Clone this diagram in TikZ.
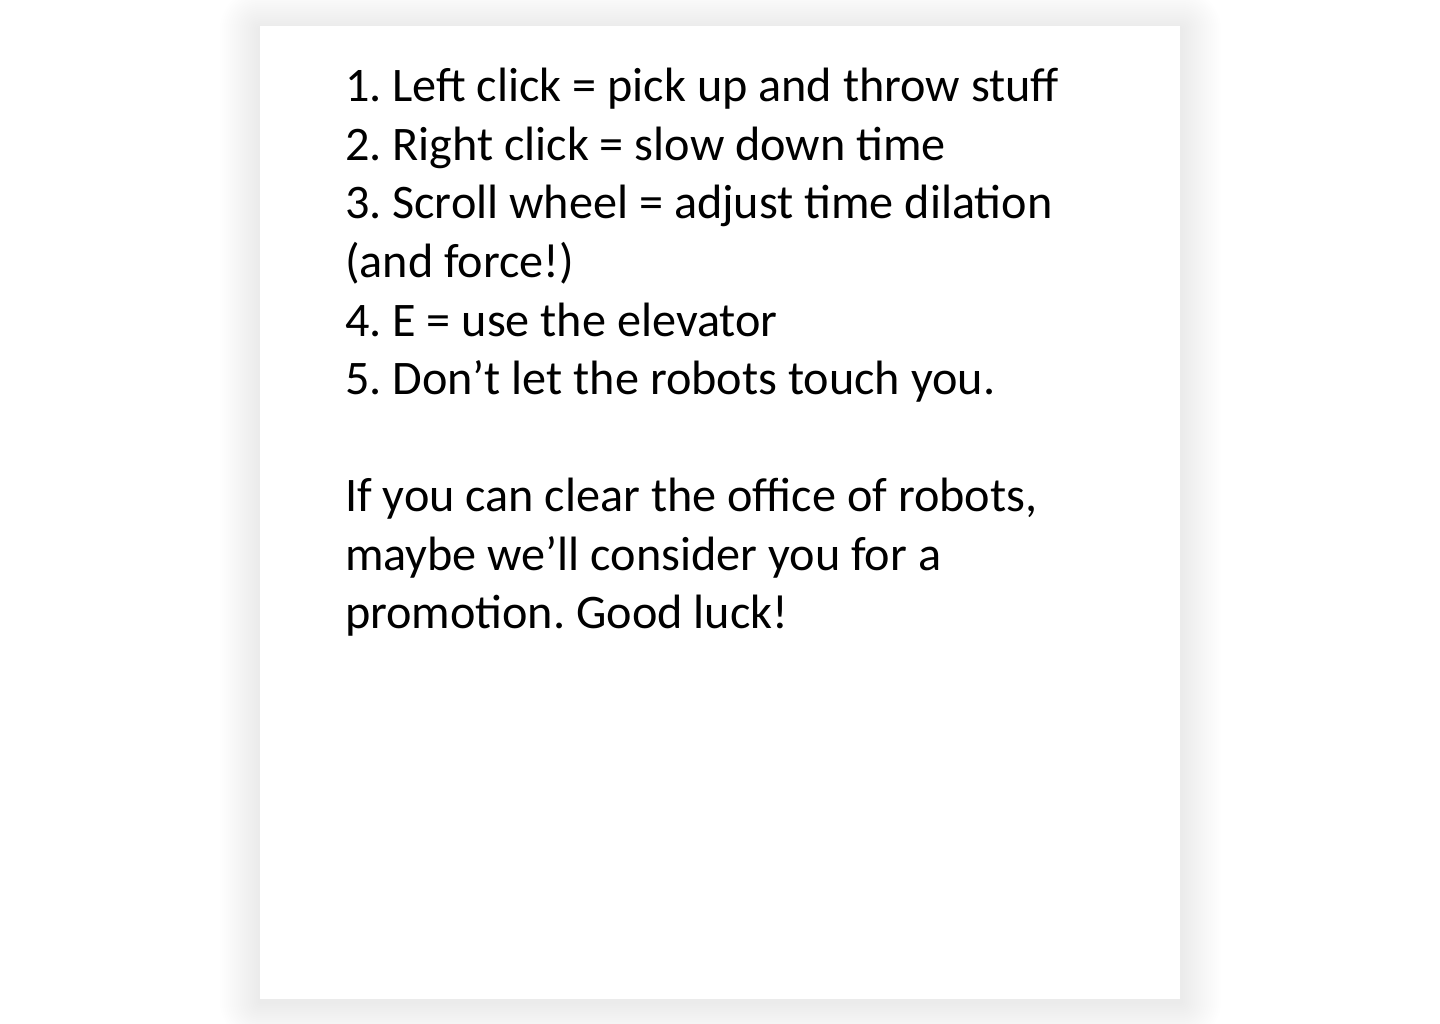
\documentclass[tikz,border=0pt]{standalone}
\usepackage{fontspec}
\setmainfont{Carlito}
\frenchspacing
\begin{document}
\begin{tikzpicture}[x=1pt,y=-1pt,
  txt/.style={anchor=base west,inner sep=0pt,outer sep=0pt,font=\fontsize{48.2}{58.5}\selectfont,text=black}]
\useasboundingbox[fill=white] (0,0) rectangle (1440,1024);
% soft shadow
\foreach \i in {1,...,20}{
  \fill[black,opacity=0.0055,rounded corners=\i*2pt] ({260-\i*2},{26-\i*2+3}) rectangle ({1180+\i*2+1},{999+\i*2+3});
}
\fill[white] (260,26) rectangle (1180,999);
\node[txt] (l1) at (345,102) {1. Left click = pick up and throw stuff};
\node[txt] (l2) at (345,160.5) {2. Right click = slow down time};
\node[txt] (l3) at (345,219) {3. Scroll wheel = adjust time dilation};
\node[txt] (l4) at (345,277.5) {(and force!)};
\node[txt] (l5) at (345,336) {4. E = use the elevator};
\node[txt] (l6) at (345,394.5) {5. Don’t let the robots touch you.};
\node[txt] (l7) at (345,511.5) {If you can clear the office of robots,};
\node[txt] (l8) at (345,570) {maybe we’ll consider you for a};
\node[txt] (l9) at (345,628.5) {promotion. Good luck!};
\end{tikzpicture}
\end{document}
